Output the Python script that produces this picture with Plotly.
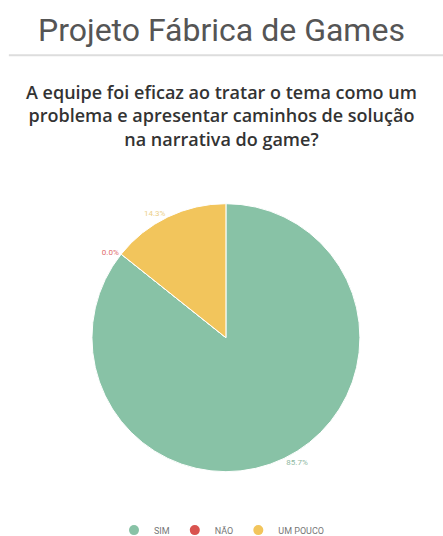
import plotly.graph_objects as go

title_text = "Projeto Fábrica de Games"
question = ("A equipe foi eficaz ao tratar o tema como um<br>"
            "problema e apresentar caminhos de solução<br>"
            "na narrativa do game?")
categories = ["SIM", "NÃO", "UM POUCO"]
values = [6, 0, 1]
colors = ["#88c2a6", "#d9534f", "#f2c55c"]
text_colors = ["#8fb8a2", "#e06c6c", "#ecd08a"]

fig = go.Figure()
fig.add_trace(go.Pie(
    labels=categories, values=values, sort=False, direction="clockwise", rotation=0,
    marker=dict(colors=colors, line=dict(color="white", width=1)),
    textposition="outside", texttemplate="%{percent:.1%}",
    outsidetextfont=dict(size=8, color=text_colors, family="Roboto"),
    domain=dict(x=[0.15, 0.87], y=[0.120, 0.620]),
    showlegend=False, hoverinfo="label+percent",
))
for c, col in zip(categories, colors):
    fig.add_trace(go.Scatter(x=[None], y=[None], mode="markers", name=c,
                             marker=dict(symbol="circle", size=10, color=col)))

fig.add_shape(type="line", xref="paper", yref="paper", x0=0.02, x1=1.0, y0=0.897, y1=0.897,
              line=dict(color="#dddddd", width=2))
fig.add_annotation(text=title_text, xref="paper", yref="paper", x=0.5, y=0.944,
                   xanchor="center", yanchor="middle",
                   showarrow=False, font=dict(family="Roboto", size=32, color="#555555"))
fig.add_annotation(text=question, xref="paper", yref="paper", x=0.5, y=0.785,
                   xanchor="center", yanchor="middle", showarrow=False,
                   font=dict(family="Open Sans", size=18, color="#333333", weight=600))

fig.update_layout(
    width=443, height=536, margin=dict(l=0, r=0, t=0, b=0, autoexpand=False),
    paper_bgcolor="white", plot_bgcolor="white",
    xaxis=dict(visible=False), yaxis=dict(visible=False),
    legend=dict(orientation="h", x=0.5, xanchor="center", y=0.011, yanchor="middle",
                font=dict(family="Roboto", size=9, color="#777777")),
)
fig.write_html("out.html")
